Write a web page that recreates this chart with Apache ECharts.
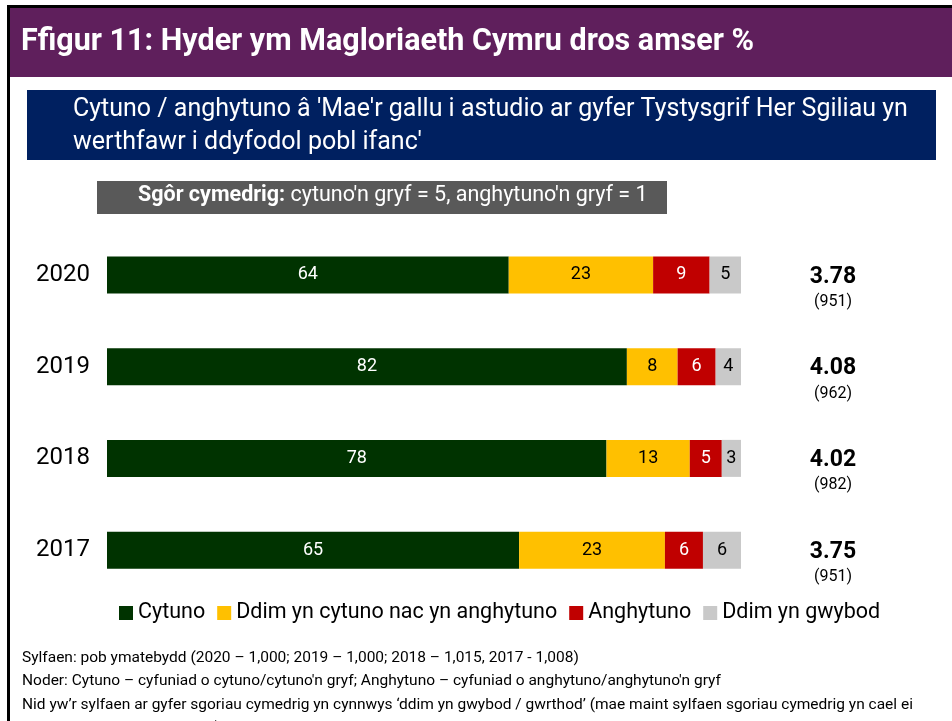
<!DOCTYPE html>
<html>
<head>
<meta charset="utf-8">
<script src="https://cdn.jsdelivr.net/npm/echarts@6/dist/echarts.min.js"></script>
<style>
  html, body { margin: 0; padding: 0; background: #fff; }
  #chart { width: 952px; height: 721px; }
</style>
</head>
<body>
<div id="chart"></div>
<script>
// data
var years = ['2020', '2019', '2018', '2017'];
var cytuno = [64, 82, 78, 65];
var ddimCytuno = [23, 8, 13, 23];
var anghytuno = [9, 6, 5, 6];
var ddimGwybod = [5, 4, 3, 6];
var sgor = ['3.78', '4.08', '4.02', '3.75'];
var sylfaen = ['(951)', '(962)', '(982)', '(951)'];

var seriesNames = ['Cytuno', 'Ddim yn cytuno nac yn anghytuno', 'Anghytuno', 'Ddim yn gwybod'];
var colors = ['#003300', '#FFC000', '#C00000', '#C9C9C9'];
var labelColors = ['#fff', '#000', '#fff', '#000'];
var raw = [cytuno, ddimCytuno, anghytuno, ddimGwybod];

// bars are shown as shares of the row total (rows sum to 99-101)
var totals = years.map(function (y, i) {
  return cytuno[i] + ddimCytuno[i] + anghytuno[i] + ddimGwybod[i];
});

var font = 'Roboto';
var chart = echarts.init(document.getElementById('chart'));

var series = raw.map(function (vals, s) {
  return {
    name: seriesNames[s],
    type: 'bar',
    stack: 'all',
    barWidth: 37,
    itemStyle: { color: colors[s] },
    label: {
      show: true,
      position: 'inside',
      color: labelColors[s],
      fontFamily: font,
      fontSize: 18,
      formatter: function (p) { return vals[p.dataIndex]; }
    },
    data: vals.map(function (v, i) { return v / totals[i] * 100; })
  };
});

chart.setOption({
  animation: false,
  color: colors,
  grid: { left: 107, right: 211, top: 229, bottom: 125 },
  xAxis: { type: 'value', min: 0, max: 100, show: false },
  yAxis: [
    {
      type: 'category',
      data: years,
      inverse: true,
      axisLine: { show: false },
      axisTick: { show: false },
      axisLabel: { color: '#000', fontFamily: font, fontSize: 24, margin: 17 }
    },
    {
      type: 'category',
      data: years,
      inverse: true,
      position: 'right',
      axisLine: { show: false },
      axisTick: { show: false },
      axisLabel: {
        margin: 92,
        align: 'center',
        padding: [26, 0, 0, 0],
        formatter: function (v, i) { return '{b|' + sgor[i] + '}\n{n|' + sylfaen[i] + '}'; },
        rich: {
          b: { fontFamily: font, fontSize: 23, fontWeight: 'bold', color: '#000', lineHeight: 28 },
          n: { fontFamily: font, fontSize: 16, color: '#000', lineHeight: 22 }
        }
      }
    }
  ],
  legend: {
    left: 114,
    top: 597,
    icon: 'rect',
    itemWidth: 14,
    itemHeight: 14,
    itemGap: 12,
    textStyle: { fontFamily: font, fontSize: 21.5, color: '#000' },
    data: seriesNames
  },
  graphic: [
    { type: 'rect', shape: { x: 7, y: 5, width: 945, height: 3 }, style: { fill: '#000' } },
    { type: 'rect', shape: { x: 7, y: 5, width: 3, height: 716 }, style: { fill: '#000' } },
    { type: 'rect', shape: { x: 10, y: 8, width: 942, height: 69 }, style: { fill: '#5F1F5C' } },
    {
      type: 'text', left: 21, top: 27,
      style: { text: 'Ffigur 11: Hyder ym Magloriaeth Cymru dros amser %', fill: '#fff', font: 'bold 30.5px ' + font }
    },
    { type: 'rect', shape: { x: 27, y: 90, width: 909, height: 70 }, style: { fill: '#002060' } },
    {
      type: 'text', left: 73, top: 93,
      style: {
        text: "Cytuno / anghytuno â 'Mae'r gallu i astudio ar gyfer Tystysgrif Her Sgiliau yn\nwerthfawr i ddyfodol pobl ifanc'",
        fill: '#fff', font: '25px ' + font, lineHeight: 33
      }
    },
    { type: 'rect', shape: { x: 97, y: 181, width: 570, height: 33 }, style: { fill: '#595959' } },
    {
      type: 'text', left: 138, top: 185,
      style: {
        text: "{b|Sgôr cymedrig:}{r| cytuno'n gryf = 5, anghytuno'n gryf = 1}",
        rich: {
          b: { fill: '#fff', fontFamily: font, fontSize: 21.5, fontWeight: 'bold' },
          r: { fill: '#fff', fontFamily: font, fontSize: 21.5 }
        }
      }
    },
    {
      type: 'text', left: 22, top: 646,
      style: {
        text: 'Sylfaen: pob ymatebydd (2020 – 1,000; 2019 – 1,000; 2018 – 1,015, 2017 - 1,008)\n' +
          "Noder: Cytuno – cyfuniad o cytuno/cytuno'n gryf; Anghytuno – cyfuniad o anghytuno/anghytuno'n gryf\n" +
          'Nid yw’r sylfaen ar gyfer sgoriau cymedrig yn cynnwys ‘ddim yn gwybod / gwrthod’ (mae maint sylfaen sgoriau cymedrig yn cael ei\n' +
          'ddangos mewn cromfachau)',
        fill: '#000', font: '15.5px ' + font, lineHeight: 23.5
      }
    }
  ],
  series: series
});
</script>
</body>
</html>
